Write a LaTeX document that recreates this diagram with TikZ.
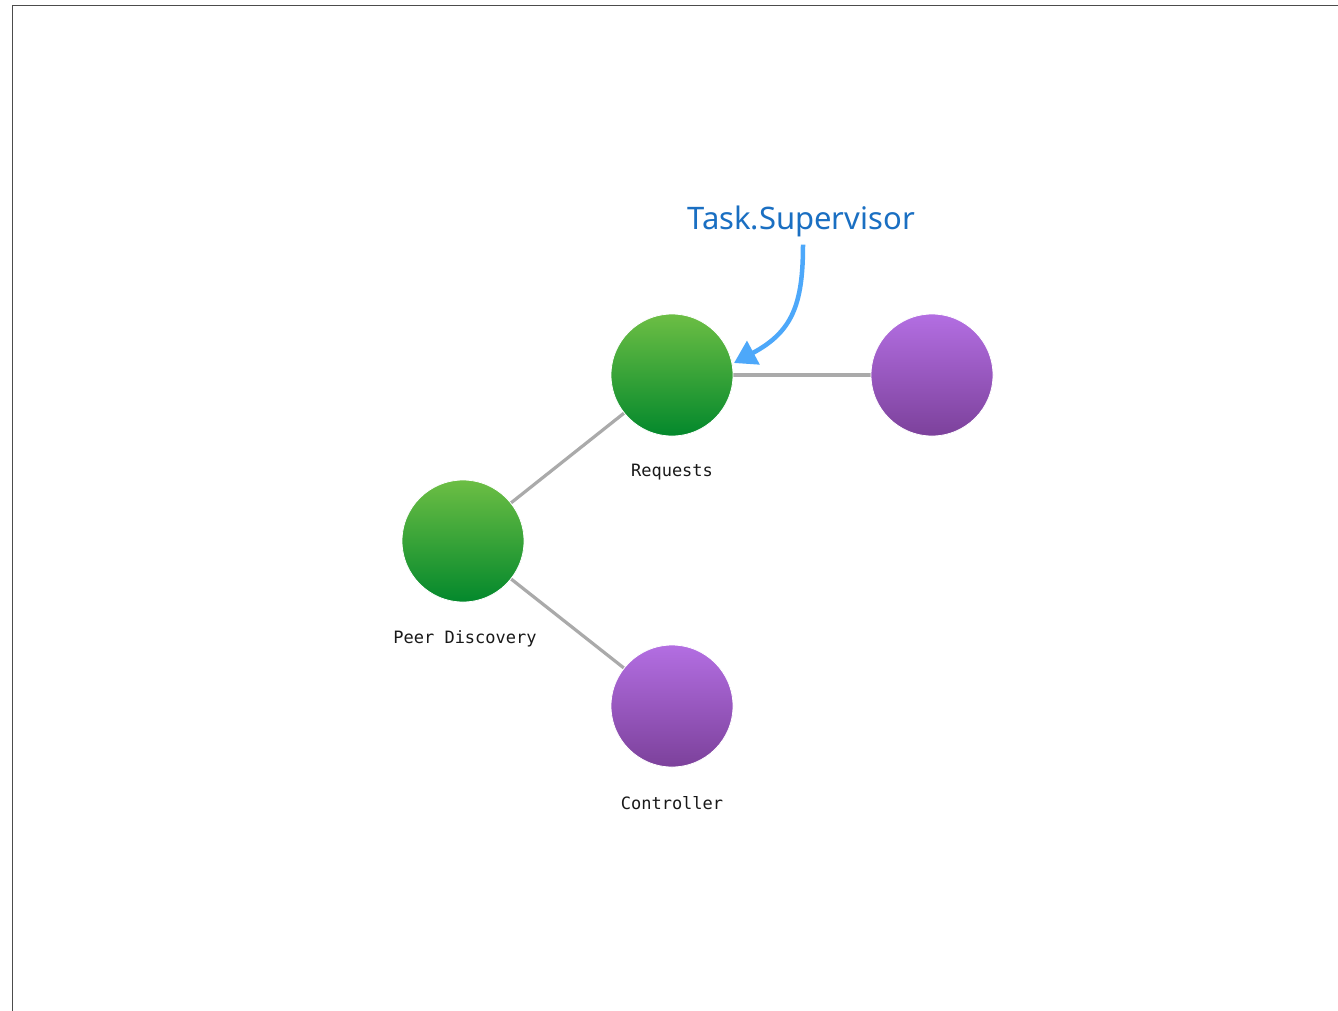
\documentclass[tikz,border=0pt]{standalone}
\usepackage{fontspec}
\setmainfont{Noto Sans}
\newfontfamily\monofont{DejaVu Sans Mono}
\usetikzlibrary{arrows.meta}
\definecolor{greentop}{HTML}{6CBE44}
\definecolor{greenbot}{HTML}{03882C}
\definecolor{purptop}{HTML}{B36EE2}
\definecolor{purpbot}{HTML}{7C419B}
\definecolor{edgegray}{HTML}{AAAAAA}
\definecolor{labelblue}{HTML}{1A6FC2}
\definecolor{arrowblue}{HTML}{4DA8FA}
\begin{document}
\begin{tikzpicture}[x=1pt,y=-1pt,
  proc/.style={circle,minimum size=122pt,inner sep=0pt,draw=white,line width=0.8pt},
  sup/.style={proc,top color=greentop,bottom color=greenbot},
  wrk/.style={proc,top color=purptop,bottom color=purpbot},
  link/.style={draw=edgegray,line width=3.2pt},
  caption/.style={font=\monofont\fontsize{17}{19}\selectfont,text=black!90}]
\useasboundingbox (0,0) rectangle (1338,1010);
\fill[white] (0,0) rectangle (1338,1010);
% frame
\draw[draw=black!70,line width=1.5pt] (12.5,1012) -- (12.5,5.5) -- (1340,5.5);
% connectors (behind the circles)
\coordinate (rq) at (672,375);
\coordinate (wk) at (932,375);
\coordinate (pd) at (463,541);
\coordinate (ct) at (672,706);
\draw[link] (rq) -- (wk);
\draw[link] (rq) -- (pd);
\draw[link] (pd) -- (ct);
% processes
\node[sup] (requests) at (rq) {};
\node[wrk] (worker) at (wk) {};
\node[sup] (peer) at (pd) {};
\node[wrk] (controller) at (ct) {};
% captions
\node[caption] (lreq) at (672,472) {Requests};
\node[caption] (lpeer) at (465,639) {Peer Discovery};
\node[caption] (lctl) at (672,803) {Controller};
% supervisor annotation
\node[text=labelblue,font=\fontsize{31}{36}\selectfont,inner sep=0pt] (tsup) at (801,221) {Task.Supervisor};
\coordinate (tip) at (734,363);
\draw[arrowblue,line width=4.5pt,-{Triangle[length=22pt,width=26pt]}]
  (tsup.south -| 803,0) ++(0,8) .. controls (803,305) and (792,332) .. (tip);
\end{tikzpicture}
\end{document}
